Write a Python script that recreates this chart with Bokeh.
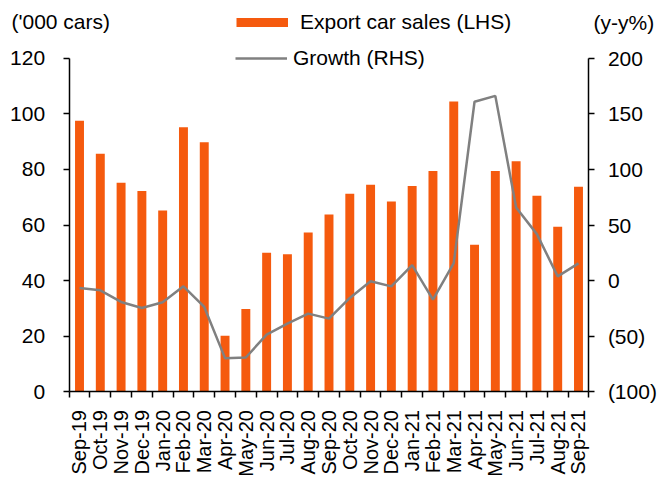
import math
from bokeh.plotting import figure
from bokeh.models import (FactorRange, Range1d, LinearAxis, FixedTicker, Legend,
                          LegendItem, Label)
from bokeh.embed import file_html
from bokeh.resources import INLINE

months = ["Sep-19", "Oct-19", "Nov-19", "Dec-19", "Jan-20", "Feb-20", "Mar-20",
          "Apr-20", "May-20", "Jun-20", "Jul-20", "Aug-20", "Sep-20", "Oct-20",
          "Nov-20", "Dec-20", "Jan-21", "Feb-21", "Mar-21", "Apr-21", "May-21",
          "Jun-21", "Jul-21", "Aug-21", "Sep-21"]
sales = [97.5, 85.6, 75.2, 72.2, 65.2, 95.1, 89.7, 20.2, 29.8, 50.0, 49.5, 57.3,
         63.8, 71.2, 74.5, 68.4, 74.0, 79.4, 104.4, 52.9, 79.4, 82.9, 70.5, 59.4, 73.7]
growth = [-6.6, -8.7, -19.1, -24.5, -19.4, -5.1, -23.6, -69.6, -69.0, -48.4, -38.5,
          -29.6, -34.1, -15.5, -0.6, -5.1, 14.0, -17.0, 15.8, 160.7, 166.0, 65.7,
          41.8, 3.9, 15.5]
left_ticks = [0, 20, 40, 60, 80, 100, 120]
right_ticks = [-100, -50, 0, 50, 100, 150, 200]
right_labels = ["(100)", "(50)", "0", "50", "100", "150", "200"]

FONT = "Liberation Sans"
ORANGE = "#F55A0E"
GREY = "#808080"
W, H = 657, 477

n = len(months)
# frame covers the whole canvas; axes are pinned inside it
p = figure(width=W, height=H,
           x_range=FactorRange(*months, range_padding=3.3,
                               range_padding_units="absolute", factor_padding=0),
           y_range=Range1d(-30.72, 140.66),
           x_axis_type=None, y_axis_type=None,
           output_backend="svg", toolbar_location=None, min_border=0)
p.outline_line_color = None
p.xgrid.visible = False
p.ygrid.visible = False
p.background_fill_color = "white"
p.border_fill_color = "white"
p.extra_y_ranges = {"growth": Range1d(-176.8, 251.65)}

p.vbar(x=months, top=sales, width=0.43, fill_color=ORANGE, line_color=None)
growth_r = p.line(x=months, y=growth, y_range_name="growth",
                  line_color=GREY, line_width=2.5)
# hidden renderer that only supplies the bar swatch of the legend
bar_sw = p.line(x=months, y=sales, line_color=ORANGE, line_width=9,
                line_cap="butt", visible=False)

centers = [i + 0.5 for i in range(n)]
bounds = [float(i) for i in range(n + 1)]
xaxis = LinearAxis(ticker=FixedTicker(ticks=centers, minor_ticks=bounds),
                   major_label_overrides=dict(zip(centers, months)),
                   bounds=(0, n), fixed_location=0)
xaxis.major_tick_in = 0
xaxis.major_tick_out = 0
xaxis.minor_tick_in = 0
xaxis.minor_tick_out = 6
xaxis.minor_tick_line_color = "black"
xaxis.minor_tick_line_width = 1.5
xaxis.axis_line_color = "black"
xaxis.axis_line_width = 1.5
xaxis.major_label_orientation = math.pi / 2
xaxis.major_label_standoff = 12
xaxis.major_label_text_font = FONT
xaxis.major_label_text_font_size = "20px"
xaxis.major_label_text_color = "black"
p.add_layout(xaxis, "below")

yaxis = LinearAxis(ticker=FixedTicker(ticks=left_ticks), bounds=(0, 120),
                   fixed_location=0)
yaxis.major_tick_in = 0
yaxis.major_tick_out = 6
yaxis.minor_tick_in = 0
yaxis.minor_tick_out = 0
yaxis.major_tick_line_width = 1.5
yaxis.axis_line_width = 1.5
yaxis.major_label_standoff = 18
yaxis.major_label_text_font = FONT
yaxis.major_label_text_font_size = "21px"
yaxis.major_label_text_color = "black"
p.add_layout(yaxis, "left")

raxis = LinearAxis(y_range_name="growth", ticker=FixedTicker(ticks=right_ticks),
                   major_label_overrides=dict(zip(right_ticks, right_labels)),
                   bounds=(-100, 200), fixed_location=n)
raxis.major_tick_in = 0
raxis.major_tick_out = 6
raxis.minor_tick_in = 0
raxis.minor_tick_out = 0
raxis.major_tick_line_width = 1.5
raxis.axis_line_width = 1.5
raxis.major_label_standoff = 13
raxis.major_label_text_font = FONT
raxis.major_label_text_font_size = "21px"
raxis.major_label_text_color = "black"
p.add_layout(raxis, "right")

common = dict(glyph_width=52, glyph_height=24, label_height=24, padding=0, margin=0,
              spacing=0, border_line_color=None, background_fill_alpha=0,
              label_text_font=FONT, label_text_font_size="21px",
              label_text_color="black")
leg1 = Legend(items=[LegendItem(label="Export car sales (LHS)", renderers=[bar_sw])],
              location=(236, 443.5), label_standoff=12, **common)
leg2 = Legend(items=[LegendItem(label="Growth (RHS)", renderers=[growth_r])],
              location=(235, 407), label_standoff=6, **common)
p.add_layout(leg1)
p.add_layout(leg2)

p.add_layout(Label(x=11, y=456, x_units="screen", y_units="screen",
                   text="('000 cars)", text_font=FONT, text_font_size="21px",
                   text_baseline="middle", text_color="black"))
p.add_layout(Label(x=593, y=455, x_units="screen", y_units="screen",
                   text="(y-y%)", text_font=FONT, text_font_size="21px",
                   text_baseline="middle", text_color="black"))

open("out.html", "w").write(file_html(p, INLINE))
